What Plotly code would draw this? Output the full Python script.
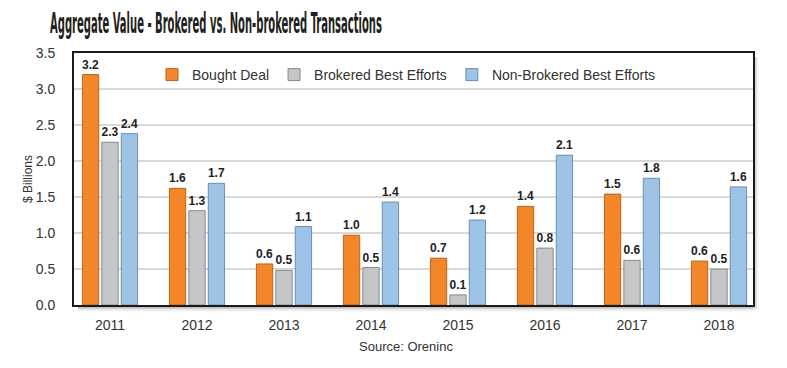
import plotly.graph_objects as go

years = ["2011", "2012", "2013", "2014", "2015", "2016", "2017", "2018"]
bought_deal = [3.20, 1.62, 0.57, 0.97, 0.65, 1.37, 1.54, 0.61]
brokered_best = [2.26, 1.31, 0.48, 0.52, 0.14, 0.79, 0.62, 0.50]
nonbrokered_best = [2.38, 1.69, 1.09, 1.43, 1.18, 2.08, 1.76, 1.64]
y_ticks = [0.0, 0.5, 1.0, 1.5, 2.0, 2.5, 3.0, 3.5]

series = [
    ("Bought Deal", bought_deal, "#F4862A", "#B8641F"),
    ("Brokered Best Efforts", brokered_best, "#C5C6C8", "#8A8A8A"),
    ("Non-Brokered Best Efforts", nonbrokered_best, "#9DC3E6", "#6C8DB0"),
]

fig = go.Figure()
for name, vals, col, lcol in series:
    fig.add_trace(go.Bar(
        x=years, y=vals, name=name,
        marker=dict(color=col, line=dict(color=lcol, width=1)),
        texttemplate="%{y:.1f}", textposition="outside", cliponaxis=False,
        constraintext="none",
        textfont=dict(family="Liberation Sans, Arial", size=12, color="#222222", weight="bold"),
    ))

W, H = 787, 368
L, R, T, B = 74, 34, 53, 63
pw, ph = W - L - R, H - T - B

shapes = []
# soft drop shadow right/bottom of frame
for i, op in enumerate([0.10, 0.07, 0.05, 0.03, 0.02]):
    d = i + 1
    shapes.append(dict(type="rect", xref="x domain", yref="y domain",
                       x0=1, x1=1 + (d + 1) / pw, y0=-(d + 1) / ph, y1=1 - 4 / ph,
                       fillcolor=f"rgba(0,0,0,{op})", line=dict(width=0), layer="below"))
    shapes.append(dict(type="rect", xref="x domain", yref="y domain",
                       x0=4 / pw, x1=1, y0=-(d + 2) / ph, y1=0,
                       fillcolor=f"rgba(0,0,0,{op})", line=dict(width=0), layer="below"))

fig.update_layout(
    width=W, height=H,
    margin=dict(l=L, r=R, t=T, b=B, autoexpand=False),
    paper_bgcolor="white", plot_bgcolor="white",
    font=dict(family="Liberation Sans, Arial", color="#333333"),
    title=dict(text="Aggregate Value - Brokered vs. Non-brokered Transactions",
               xref="container", yref="container", x=50 / W, y=1 - 23 / H,
               xanchor="left", yanchor="middle",
               font=dict(family="DejaVu Sans Condensed, Liberation Sans Narrow, Arial", size=28,
                         color="#231F20", weight="bold")),
    barmode="group", bargap=0.33, bargroupgap=0.16,
    showlegend=True,
    legend=dict(orientation="h", x=(152 - L) / pw, y=(305 - 75) / ph, xanchor="left", yanchor="middle",
                font=dict(size=14, color="#333333"), bgcolor="rgba(0,0,0,0)", traceorder="normal"),
    xaxis=dict(type="category", range=[-36 / 87, 7 + 34 / 87], showline=True, linecolor="#1a1a1a",
               linewidth=2, mirror=True, showgrid=False, ticks="", ticklabelstandoff=6,
               tickfont=dict(size=14, color="#333333"), fixedrange=True),
    yaxis=dict(range=[0, 3.5], tickvals=y_ticks, ticktext=[f"{v:.1f}" for v in y_ticks],
               showline=True, linecolor="#1a1a1a", linewidth=2, mirror=True,
               showgrid=True, gridcolor="#D9D9D9", gridwidth=2, zeroline=False,
               ticks="", ticklabelstandoff=14, tickfont=dict(size=14, color="#333333"),
               title=dict(text="$ Billions", font=dict(size=12, color="#333333"), standoff=1),
               fixedrange=True),
    shapes=shapes,
    annotations=[dict(text="Source: Oreninc", xref="paper", yref="paper",
                      x=(406 - L) / pw, y=(305 - 346) / ph, showarrow=False,
                      font=dict(size=13, color="#333333"), xanchor="center", yanchor="middle")],
)

post = """
document.body.style.margin = '0';
document.body.style.padding = '0';
var t = document.querySelector('.gtitle');
if (t) {
  var w = t.getBBox().width;
  var s = 332 / w;
  t.style.transformBox = 'fill-box';
  t.style.transformOrigin = 'left center';
  t.style.transform = 'scaleX(' + s + ')';
}
"""
fig.write_html("out.html", post_script=post, config={"displayModeBar": False})
